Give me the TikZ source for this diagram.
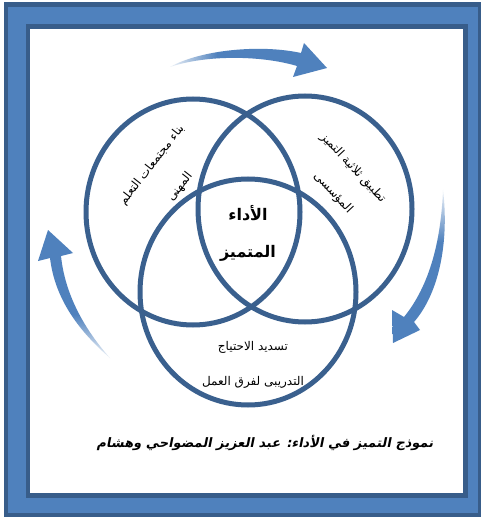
\documentclass[tikz,border=0pt]{standalone}
\usepackage{fontspec}
\newfontfamily\arabicfont[Script=Arabic]{DejaVu Sans}
\newfontfamily\capfont[Script=Arabic,FakeSlant=0.2]{DejaVu Sans Bold}
\TeXXeTstate=1
\definecolor{frameblue}{RGB}{79,129,189}
\definecolor{framedark}{RGB}{56,93,138}
\definecolor{ringblue}{RGB}{58,96,142}
\pgfdeclarehorizontalshading{tailleft}{100bp}{color(0bp)=(frameblue!10); color(25bp)=(frameblue!10); color(40bp)=(frameblue); color(100bp)=(frameblue)}
\pgfdeclareverticalshading{tailbottom}{100bp}{color(0bp)=(frameblue!10); color(25bp)=(frameblue!10); color(42bp)=(frameblue); color(100bp)=(frameblue)}
\pgfdeclareverticalshading{tailtop}{100bp}{color(0bp)=(frameblue); color(58bp)=(frameblue); color(75bp)=(frameblue!10); color(100bp)=(frameblue!10)}
\begin{document}
\begin{tikzpicture}[x=1pt,y=-1pt,
  ring/.style={draw=ringblue, line width=5pt},
  txt/.style={font=\arabicfont\fontsize{12}{14}\selectfont, inner sep=0pt},
  ctxt/.style={font=\arabicfont\bfseries\fontsize{16}{19}\selectfont, inner sep=0pt},
  captxt/.style={font=\capfont\fontsize{13}{16}\selectfont, inner sep=0pt}]
\useasboundingbox (0,0) rectangle (482,518);
% frame
\fill[framedark] (4,2) rectangle (481,517);
\fill[frameblue] (8,7) rectangle (478,513);
\fill[framedark] (26,24) rectangle (468,498);
\fill[white] (30,29) rectangle (463,493);
% circles
\draw[ring] (193,212) ellipse [x radius=107pt, y radius=113pt];
\draw[ring] (305,209) ellipse [x radius=107pt, y radius=113pt];
\draw[ring] (248,292) ellipse [x radius=108pt, y radius=113pt];
% arrows
\shade[shading=tailleft]
  (170,67) .. controls (200,50) and (260,44) .. (301,53) -- (304,43) -- (327,68)
  -- (293,77) -- (297,66) .. controls (260,55) and (205,55) .. (170,67) -- cycle;
\shade[shading=tailbottom]
  (110,358) .. controls (80,332) and (55,300) .. (50,258) -- (38,261) -- (48,230)
  -- (73,253) -- (61,256) .. controls (65,295) and (85,330) .. (110,358) -- cycle;
\shade[shading=tailtop]
  (443,190) .. controls (449,240) and (440,292) .. (414,322) -- (420,330) -- (393,343)
  -- (392,310) -- (404,317) .. controls (430,285) and (441,240) .. (443,190) -- cycle;
% texts
\node[txt, rotate=52] (l1) at (152,165) {\beginR بناء مجتمعات التعلم\endR};
\node[txt, rotate=52] (l2) at (180,187) {\beginR المهنى\endR};
\node[txt, rotate=-47] (r1) at (353,168) {\beginR تطبيق ثلاثية التميز\endR};
\node[txt, rotate=-47] (r2) at (333,193) {\beginR المؤسسى\endR};
\node[ctxt] (c1) at (248,213) {\beginR الأداء\endR};
\node[ctxt] (c2) at (248,253) {\beginR المتميز\endR};
\node[txt] (b1) at (253,347) {\beginR تسديد الاحتياج\endR};
\node[txt] (b2) at (253,382) {\beginR التدريبى لفرق العمل\endR};
\node[captxt] (cap) at (265,443) {\beginR نموذج التميز في الأداء: عبد العزيز المضواحي وهشام\endR};
\end{tikzpicture}
\end{document}
